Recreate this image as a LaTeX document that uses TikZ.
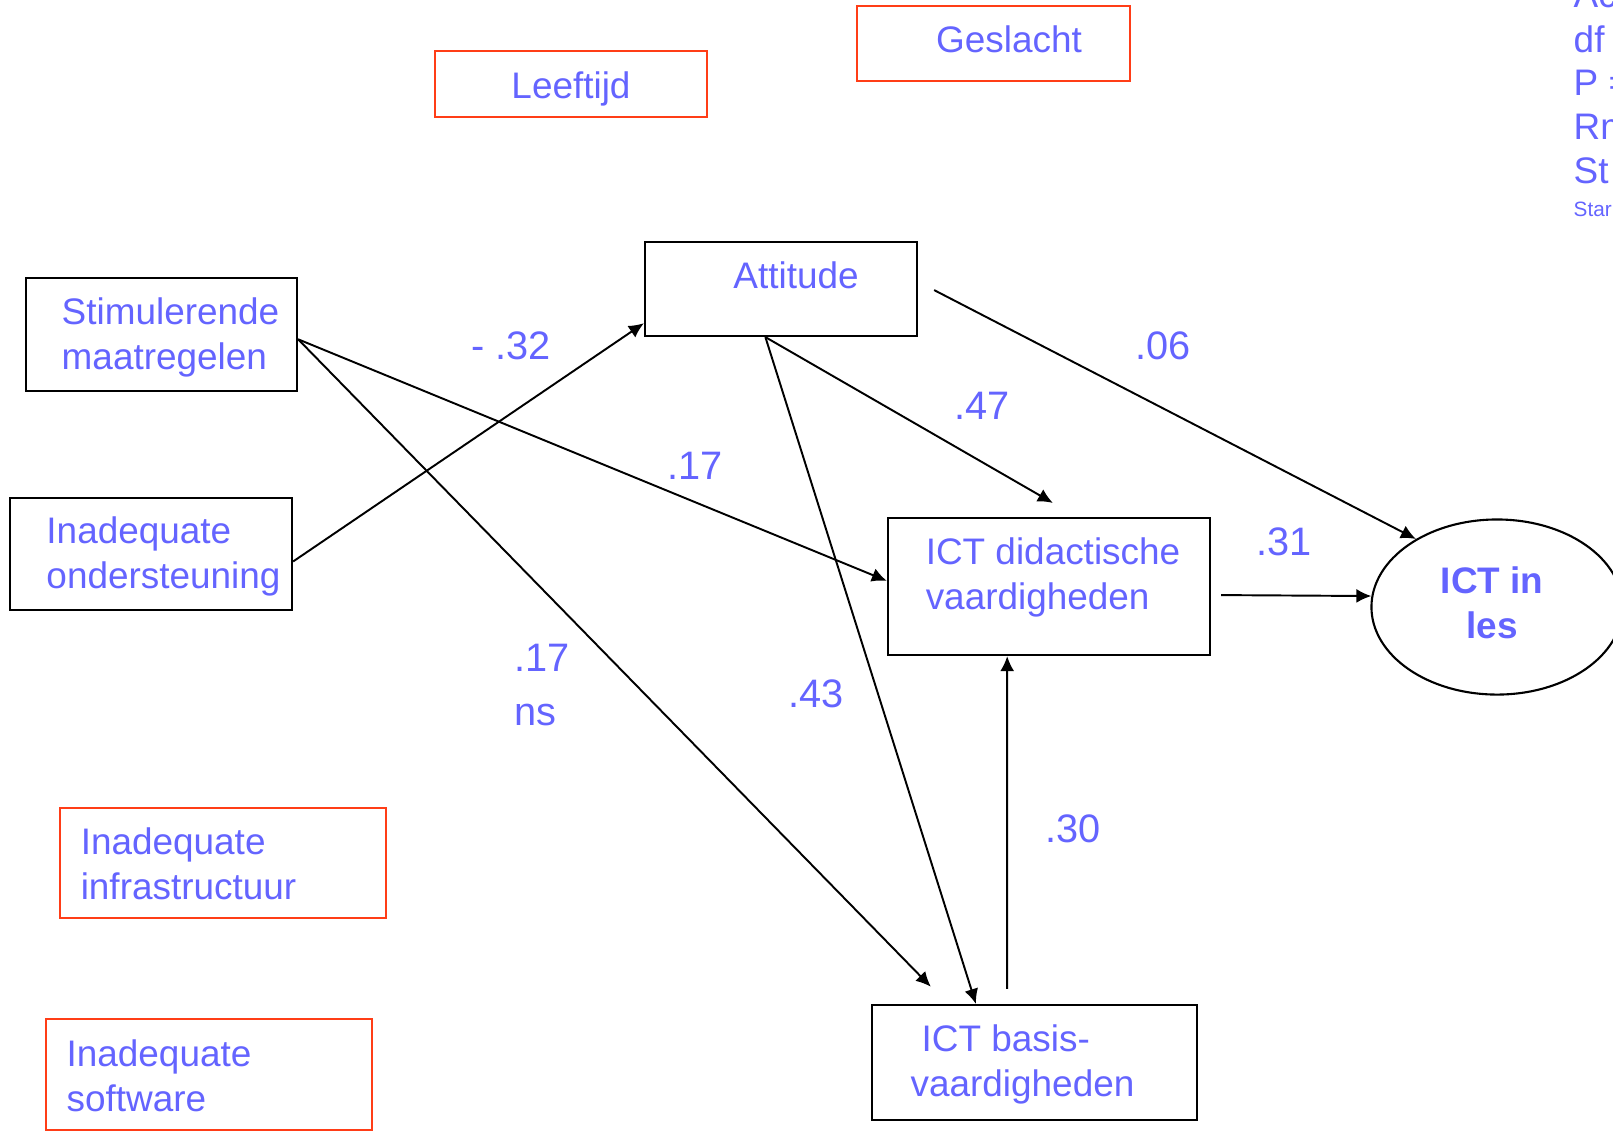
\documentclass[tikz,border=0pt]{standalone}
\usepackage{fontspec}
\setmainfont{Liberation Sans}
\usetikzlibrary{arrows.meta,shapes.geometric}

\definecolor{letter}{HTML}{6464FF}
\definecolor{kader}{HTML}{FF3D17}

\begin{document}
\begin{tikzpicture}[x=0.01cm, y=-0.01cm,
    tekst/.style={
      text=letter,
      align=left,
      font=\fontsize{10.5}{12.8}\selectfont},
    vak/.style={
      rectangle,
      draw,
      line width=.6pt,
      inner sep=0pt},
    rodevak/.style={vak, draw=kader},
    getal/.style={
      text=letter,
      align=left,
      font=\fontsize{11.3}{15.3}\selectfont},
    pijl/.style={-{Latex[length=.15cm,width=.14cm]}, line width=.55pt}
    ]

  \clip (0,0) rectangle (1613,1141);

  \node at (571,84) (leeftijd) [rodevak, minimum width=2.72cm, minimum height=.66cm,
    label={[tekst, shift={(0,5)}]center:Leeftijd}] {};
  \node at (993.5,43.5) (geslacht) [rodevak, minimum width=2.73cm, minimum height=.75cm,
    label={[tekst, shift={(15.5,-4.5)}]center:Geslacht}] {};

  \node at (781,289) (attitude) [vak, minimum width=2.72cm, minimum height=.94cm,
    label={[tekst, shift={(15,-14)}]center:Attitude}] {};
  \node at (161.5,334.5) (stimulerend) [vak, minimum width=2.71cm, minimum height=1.13cm,
    label={[tekst, shift={(9,3)}]center:Stimulerende\\maatregelen}] {};
  \node at (151,554) (ondersteuning) [vak, minimum width=2.82cm, minimum height=1.12cm,
    label={[tekst, shift={(12.5,2)}]center:Inadequate\\ondersteuning}] {};
  \node at (1049,586.5) (didactisch) [vak, minimum width=3.22cm, minimum height=1.37cm,
    label={[tekst, shift={(4,-9)}]center:ICT didactische\\vaardigheden}] {};
  \node at (1034.5,1062.5) (basis) [vak, minimum width=3.25cm, minimum height=1.15cm,
    label={[tekst, shift={(-12,1.5)}]center:\hspace*{.11cm}ICT basis-\\vaardigheden}] {};

  \node at (1497,607) (ictles) [ellipse, draw, line width=.6pt, inner sep=0pt,
    minimum width=2.51cm, minimum height=1.75cm, tekst, align=center,
    font=\fontsize{10.5}{12.8}\selectfont\bfseries,
    label={[tekst, align=center, font=\fontsize{10.5}{12.8}\selectfont\bfseries,
      shift={(-5,-4)}]center:ICT in\\les}] {};

  \node at (223,863) (infrastructuur) [rodevak, minimum width=3.26cm, minimum height=1.1cm,
    label={[tekst, shift={(-34.5,.5)}]center:Inadequate\\infrastructuur}] {};
  \node at (209,1074.5) (software) [rodevak, minimum width=3.26cm, minimum height=1.11cm,
    label={[tekst, shift={(-50,1)}]center:Inadequate\\software}] {};

  % gewichten
  \node at (511,346) (w32) [getal] {- .32};
  \node at (695,466) (w17a) [getal] {.17};
  \node at (542,685) (w17b) [getal] {.17\\ns};
  \node at (816,694) (w43) [getal] {.43};
  \node at (982,406) (w47) [getal] {.47};
  \node at (1163,346) (w06) [getal] {.06};
  \node at (1284,542) (w31) [getal] {.31};
  \node at (1073,829) (w30) [getal] {.30};

  % fit rechtsboven
  \foreach \regel [count=\i] in {Ac,df,P =,Rm,St}
    \node at (1573,-49+44*\i) (fit\i) [tekst, anchor=west, inner sep=0pt] {\regel};
  \node at (1573,209) (fit6) [tekst, anchor=west, inner sep=0pt,
    font=\fontsize{5.9}{7}\selectfont] {Star};

  \path [pijl] (ondersteuning.357) edge [] (attitude.194);
  \path [pijl] (stimulerend.358) edge [] (didactisch.178);
  \path [pijl] (stimulerend.358) edge [shorten >=.24cm] (basis.146);
  \path [pijl] (attitude.252) edge [shorten >=.28cm] (didactisch.68);
  \path [pijl] (attitude.252) edge [] (basis.135);
  \path [pijl] (attitude.3) edge [shorten <=.18cm] (ictles.140);
  \path [pijl] (didactisch.357) edge [shorten <=.1cm] (ictles.175);
  \path [pijl] (basis.115) edge [shorten <=.15cm] (didactisch.239);

\end{tikzpicture}
\end{document}
